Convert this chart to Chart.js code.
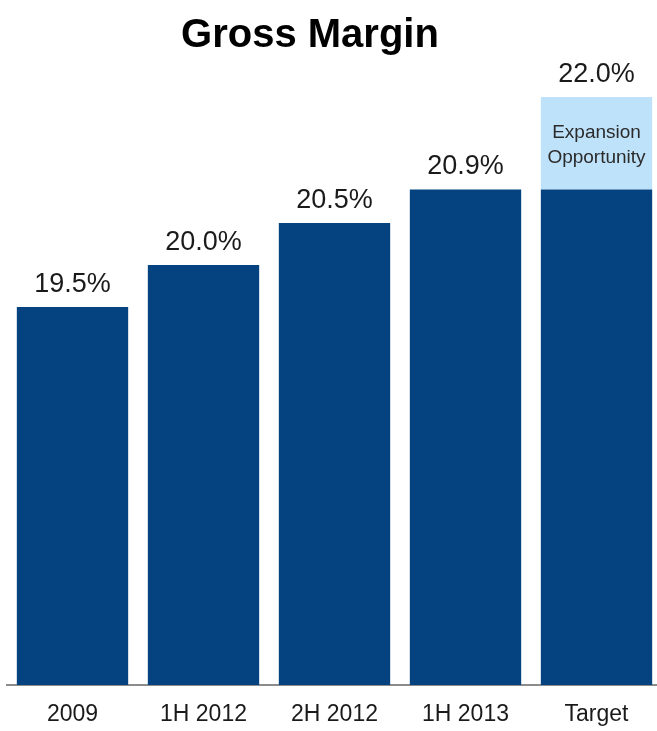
<!DOCTYPE html>
<html>
<head>
<meta charset="utf-8">
<script src="https://cdn.jsdelivr.net/npm/chart.js@4"></script>
<style>
  html, body { margin: 0; padding: 0; background: #fff; overflow: hidden; }
  /* the original's last bar runs slightly past the right edge, so the canvas is a bit wider than the window */
  #wrap { width: 662px; height: 731px; position: relative; }
</style>
</head>
<body>
<div id="wrap"><canvas id="c"></canvas></div>
<script>
// Gross margin by period, with the target bar split into achieved + expansion opportunity
var chartTitle = 'Gross Margin';
var categories = ['2009', '1H 2012', '2H 2012', '1H 2013', 'Target'];
var marginValues = [19.5, 20.0, 20.5, 20.9, 20.9];
var opportunityValues = [null, null, null, null, 1.1];
var topLabels = ['19.5%', '20.0%', '20.5%', '20.9%', '22.0%'];
var opportunityText = ['Expansion', 'Opportunity'];

var DARK = '#04437f';
var LIGHT = '#bfe2fb';
var FONT = '"Liberation Sans", Arial, Helvetica, sans-serif';

// title (sits a bit left of centre in the original), % labels and the note in the light segment
var labelPlugin = {
  id: 'barLabels',
  afterDraw: function (chart) {
    var ctx = chart.ctx;
    var m0 = chart.getDatasetMeta(0);
    var m1 = chart.getDatasetMeta(1);
    ctx.save();
    ctx.textAlign = 'center';
    ctx.fillStyle = '#000';
    ctx.font = 'bold 40px ' + FONT;
    ctx.textBaseline = 'alphabetic';
    ctx.fillText(chartTitle, 310, 47);

    for (var i = 0; i < categories.length; i++) {
      var bar = m0.data[i];
      var top = bar.y;
      var seg = m1.data[i];
      if (opportunityValues[i] != null && seg) {
        top = seg.y;
        ctx.fillStyle = '#2b2b2b';
        ctx.font = '19px ' + FONT;
        ctx.textBaseline = 'middle';
        ctx.fillText(opportunityText[0], seg.x, seg.y + 36);
        ctx.fillText(opportunityText[1], seg.x, seg.y + 61);
      }
      ctx.fillStyle = '#1a1a1a';
      ctx.font = '27px ' + FONT;
      ctx.textBaseline = 'alphabetic';
      ctx.fillText(topLabels[i], bar.x, top - 15);
    }
    ctx.restore();
  }
};

new Chart(document.getElementById('c'), {
  type: 'bar',
  data: {
    labels: categories,
    datasets: [
      { label: 'Gross Margin', data: marginValues, backgroundColor: DARK,
        barPercentage: 0.85, categoryPercentage: 1 },
      { label: 'Expansion Opportunity', data: opportunityValues, backgroundColor: LIGHT,
        barPercentage: 0.85, categoryPercentage: 1 }
    ]
  },
  options: {
    responsive: true, maintainAspectRatio: false, animation: false,
    layout: { padding: { left: 7, right: 0, top: 97, bottom: 0 } },
    scales: {
      x: {
        stacked: true,
        grid: { display: false, drawTicks: false },
        border: { display: true, color: '#8c8c8c', width: 2 },
        ticks: { color: '#1a1a1a', font: { family: FONT, size: 23 }, padding: 16 },
        afterFit: function (scale) { scale.height = 46; }
      },
      y: {
        stacked: true, display: false,
        min: 15, max: 22
      }
    },
    plugins: {
      legend: { display: false },
      tooltip: { enabled: false },
      title: { display: false }
    }
  },
  plugins: [labelPlugin]
});
</script>
</body>
</html>
